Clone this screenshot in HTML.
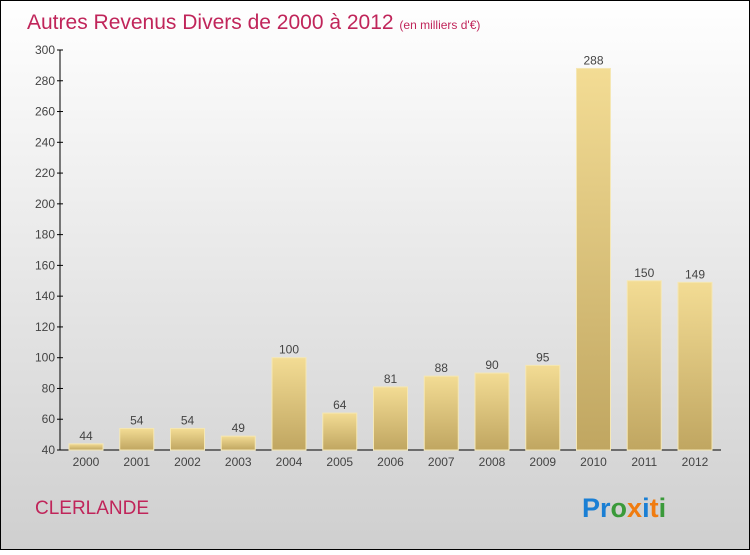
<!DOCTYPE html>
<html><head><meta charset="utf-8"><style>
body{margin:0;width:750px;height:550px;overflow:hidden;font-family:"Liberation Sans",sans-serif}
</style></head><body>
<svg id="c" width="750" height="550" xmlns="http://www.w3.org/2000/svg">
<defs>
<linearGradient id="bg" x1="0" y1="0" x2="0" y2="1"><stop offset="0" stop-color="#ffffff"/><stop offset="1" stop-color="#cfcfcf"/></linearGradient>
<linearGradient id="bar" x1="0" y1="0" x2="0" y2="1"><stop offset="0" stop-color="#f3dc94"/><stop offset="1" stop-color="#c0a661"/></linearGradient>
</defs>
<rect x="0.5" y="0.5" width="749" height="549" fill="url(#bg)" stroke="#000"/>
<text x="27" y="29" font-size="21" fill="#c0255a">Autres Revenus Divers de 2000 à 2012 <tspan font-size="12">(en milliers d'€)</tspan></text>
<text x="35" y="514" font-size="19" fill="#c0255a">CLERLANDE</text>
<text x="582" y="517" font-size="27" font-weight="bold"><tspan fill="#1a7fd4">Pr</tspan><tspan fill="#3a9a3a">o</tspan><tspan fill="#f07c10">x</tspan><tspan fill="#1a7fd4">i</tspan><tspan fill="#f07c10">t</tspan><tspan fill="#3a9a3a">i</tspan></text>
<g id="plot"></g>
</svg>
<script>
const categories=["2000","2001","2002","2003","2004","2005","2006","2007","2008","2009","2010","2011","2012"];
const values=[44,54,54,49,100,64,81,88,90,95,288,150,149];
const yTicks=[40,60,80,100,120,140,160,180,200,220,240,260,280,300];
const NS="http://www.w3.org/2000/svg";
const g=document.getElementById('plot');
const y=v=>450-(v-40)*400/260;
const x=i=>86+i*50.75;
function mk(t,a){const e=document.createElementNS(NS,t);for(const k in a)e.setAttribute(k,a[k]);g.appendChild(e);return e;}
let ax=mk('line',{x1:60,y1:50,x2:60,y2:450,stroke:'#000'});


let bx=mk('line',{x1:60,y1:450,x2:721,y2:450,stroke:'#000'});


yTicks.forEach(t=>{
 const l=mk('line',{x1:57,x2:63,y1:y(t),y2:y(t),stroke:'#000'});
 
 
 const tx=mk('text',{x:55,y:y(t)+4,'text-anchor':'end','font-size':12,fill:'#444'});
 tx.textContent=t;
 
 
});
categories.forEach((c,i)=>{
 const v=values[i];
 const r=mk('rect',{x:x(i)-17,y:y(v),width:34,height:450-y(v),fill:'url(#bar)',stroke:'#f5e7b4','stroke-width':1});
 
 
 const vl=mk('text',{x:x(i),y:y(v)-4,'text-anchor':'middle','font-size':12,fill:'#444'});
 vl.textContent=v;
 
 
 const cl=mk('text',{x:x(i),y:466,'text-anchor':'middle','font-size':12,fill:'#444'});
 cl.textContent=c;
 
 
});
</script>
</body></html>
